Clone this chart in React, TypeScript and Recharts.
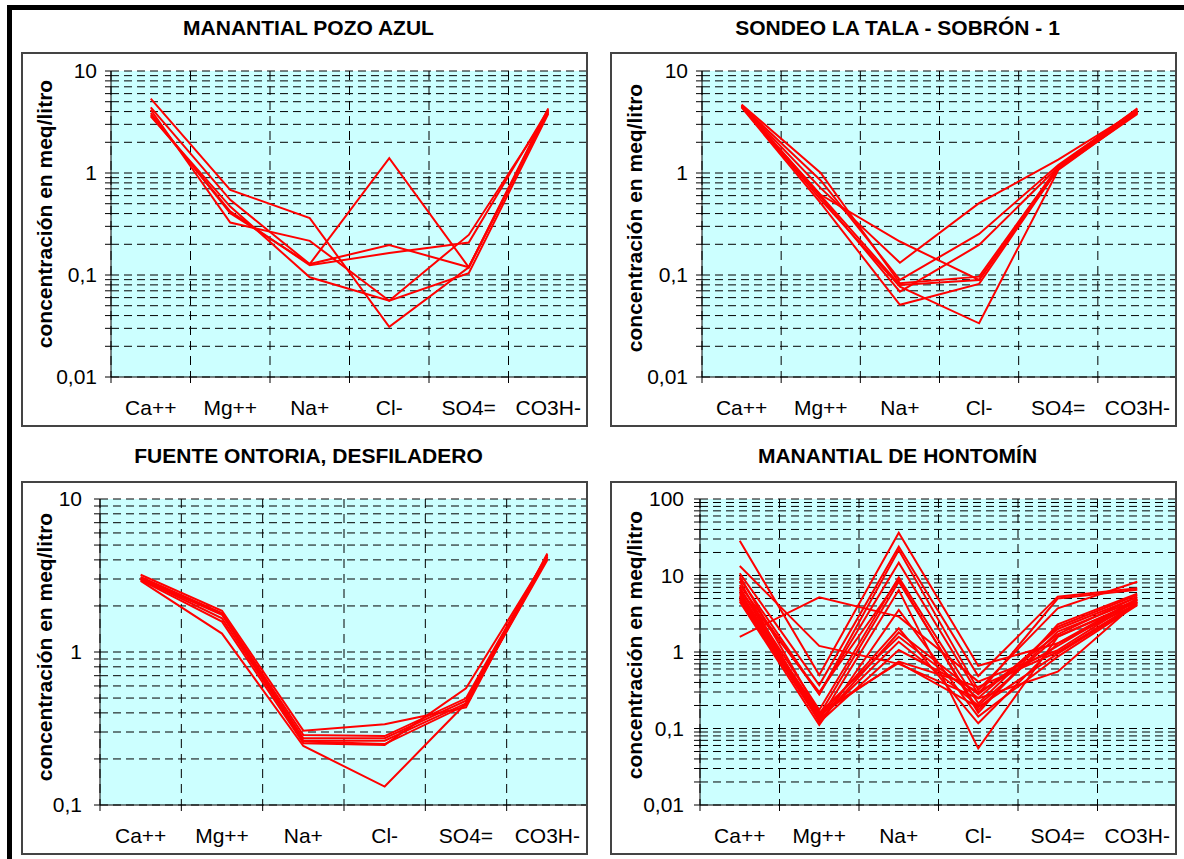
import React from 'react';
import { LineChart, Line, XAxis, YAxis, CartesianGrid } from 'recharts';

const categories = ['Ca++', 'Mg++', 'Na+', 'Cl-', 'SO4=', 'CO3H-'];

const titles = [
  'MANANTIAL POZO AZUL',
  'SONDEO LA TALA - SOBRÓN - 1',
  'FUENTE ONTORIA, DESFILADERO',
  'MANANTIAL DE HONTOMÍN',
];

const yAxisTitle = 'concentración en meq/litro';

// values per series, in category order: Ca++, Mg++, Na+, Cl-, SO4=, CO3H-
const pozoAzul: number[][] = [
  [5.35, 0.684, 0.361, 0.031, 0.119, 4.3],
  [4.39, 0.546, 0.128, 1.4, 0.119, 4.0],
  [4.17, 0.327, 0.216, 0.056, 0.247, 3.9],
  [3.87, 0.404, 0.128, 0.197, 0.119, 4.1],
  [3.59, 0.469, 0.095, 0.056, 0.104, 3.8],
  [3.7, 0.42, 0.125, 0.164, 0.208, 4.2],
];

const sondeoLaTala: number[][] = [
  [4.7, 1.0, 0.083, 0.0964, 1.16, 4.3],
  [4.6, 0.845, 0.0895, 0.253, 1.2, 4.2],
  [4.6, 0.711, 0.132, 0.506, 1.35, 4.1],
  [4.5, 0.611, 0.213, 0.0895, 1.1, 4.0],
  [4.5, 0.546, 0.077, 0.0336, 1.07, 3.9],
  [4.4, 0.506, 0.051, 0.0818, 1.1, 3.8],
  [4.5, 0.58, 0.0687, 0.197, 1.15, 4.0],
  [4.6, 0.6, 0.08, 0.0895, 1.12, 3.9],
];

const fuenteOntoria: number[][] = [
  [3.2, 1.86, 0.306, 0.337, 0.435, 4.4],
  [3.1, 1.8, 0.287, 0.282, 0.498, 4.3],
  [3.05, 1.77, 0.273, 0.273, 0.481, 4.2],
  [3.0, 1.66, 0.263, 0.263, 0.462, 4.1],
  [2.95, 1.58, 0.253, 0.247, 0.579, 4.2],
  [2.92, 1.32, 0.243, 0.132, 0.462, 4.0],
  [3.0, 1.75, 0.26, 0.25, 0.45, 4.3],
];

const hontomin: number[][] = [
  [28.5, 0.5, 36.3, 0.66, 1.3, 5.0],
  [13.3, 1.2, 0.7, 0.248, 0.553, 4.5],
  [1.58, 5.19, 2.9, 0.41, 1.06, 4.8],
  [10.7, 0.37, 23.8, 0.485, 5.29, 6.8],
  [9.18, 0.28, 21.5, 0.319, 3.73, 8.3],
  [7.52, 0.28, 14.7, 0.283, 5.0, 6.5],
  [6.8, 0.175, 9.46, 0.213, 2.14, 5.56],
  [5.85, 0.15, 8.3, 0.175, 1.85, 4.79],
  [5.29, 0.129, 6.46, 0.055, 1.58, 4.5],
  [4.55, 0.111, 3.54, 0.143, 0.87, 4.11],
  [6.2, 0.14, 2.04, 0.117, 1.3, 4.3],
  [5.5, 0.16, 1.58, 0.25, 2.0, 5.2],
  [7.0, 0.13, 1.36, 0.2, 1.6, 4.6],
  [8.5, 0.12, 1.06, 0.3, 1.2, 4.9],
  [5.0, 0.15, 0.748, 0.35, 1.0, 4.4],
  [6.5, 0.3, 8.8, 0.16, 2.3, 5.8],
  [4.8, 0.125, 1.8, 0.28, 1.7, 5.3],
  [9.8, 0.16, 0.72, 0.19, 0.95, 4.2],
];

const yMajorsA = [0.01, 0.1, 1, 10];
const yMajorsB = [0.1, 1, 10];
const yMajorsC = [0.01, 0.1, 1, 10, 100];
const minorSteps = [2, 3, 4, 5, 6, 7, 8, 9];

function buildTicks(majors: number[]) {
  const t: number[] = [];
  majors.forEach((m, i) => {
    t.push(m);
    if (i < majors.length - 1) minorSteps.forEach((s) => t.push(Number((m * s).toPrecision(3))));
  });
  return t;
}

function buildRows(series: number[][]) {
  return categories.map((c, i) => {
    const row: any = { x: i + 0.5, cat: c };
    series.forEach((s, j) => {
      row['s' + j] = s[i];
    });
    return row;
  });
}

const xTicks = categories.map((_, i) => i).concat([categories.length]);
const FONT = "Arial, 'Liberation Sans', sans-serif";

type Box = { left: number; top: number; w: number; h: number };
type Plot = { left: number; right: number; top: number; bottom: number };

function Panel(props: {
  title: string;
  series: number[][];
  majors: number[];
  box: Box;
  plot: Plot;
  tickGap: number;
  titleTop: number;
  labelX: number;
  labelY: number;
}) {
  const { title, series, majors, box, plot, tickGap, titleTop, labelX, labelY } = props;
  const rows = buildRows(series);
  const ticks = buildTicks(majors);
  const yAxisWidth = 60;
  const xAxisHeight = 40;
  const margin = {
    top: plot.top - box.top,
    right: box.left + box.w - plot.right,
    bottom: box.top + box.h - plot.bottom - xAxisHeight,
    left: plot.left - box.left - yAxisWidth,
  };
  const band = (plot.right - plot.left) / categories.length;
  const majorSet = new Set(majors);
  const fmt = (v: number) => (majorSet.has(v) ? String(v).replace('.', ',') : '');
  return (
    <>
      <div
        style={{
          position: 'absolute',
          left: box.left + 4,
          top: titleTop,
          width: box.w,
          textAlign: 'center',
          fontWeight: 'bold',
          fontSize: 21,
          lineHeight: '24px',
          whiteSpace: 'nowrap',
        }}
      >
        {title}
      </div>
      <div style={{ position: 'absolute', left: box.left, top: box.top }}>
        <LineChart width={box.w} height={box.h} data={rows} margin={margin}>
          <CartesianGrid horizontal vertical={false} fill="#CCFFFF" fillOpacity={1} stroke="#000" strokeDasharray="8 5" />
          <CartesianGrid horizontal={false} vertical stroke="#000" strokeDasharray="9 6" />
          <XAxis
            type="number"
            dataKey="x"
            domain={[0, categories.length]}
            ticks={xTicks}
            interval={0}
            allowDataOverflow
            height={xAxisHeight}
            tickSize={6}
            axisLine={{ stroke: '#000', strokeWidth: 1 }}
            tickLine={{ stroke: '#000' }}
            tick={(p: any) => {
              const v = p.payload.value;
              if (v >= categories.length) return <g />;
              return (
                <text x={p.x + band / 2} y={p.y + 23} dy="0.355em" textAnchor="middle" fontSize={21} fill="#000" fontFamily={FONT}>
                  {categories[v]}
                </text>
              );
            }}
          />
          <YAxis
            type="number"
            scale="log"
            domain={[majors[0], majors[majors.length - 1]]}
            allowDataOverflow
            ticks={ticks}
            interval={0}
            width={yAxisWidth}
            tickSize={6}
            tickMargin={tickGap}
            tickFormatter={fmt}
            tick={{ fill: '#000', fontSize: 21, fontFamily: FONT }}
            axisLine={{ stroke: '#000', strokeWidth: 1 }}
            tickLine={{ stroke: '#000' }}
            label={{
              content: () => (
                <text
                  x={labelX}
                  y={labelY}
                  transform={`rotate(-90 ${labelX} ${labelY})`}
                  textAnchor="middle"
                  dominantBaseline="central"
                  fontSize={21}
                  fontWeight="bold"
                  fill="#000"
                  fontFamily={FONT}
                >
                  {yAxisTitle}
                </text>
              ),
            }}
          />
          {series.map((_, j) => (
            <Line
              key={j}
              type="linear"
              dataKey={'s' + j}
              stroke="#FF0000"
              strokeWidth={2}
              dot={false}
              activeDot={false}
              isAnimationActive={false}
            />
          ))}
        </LineChart>
      </div>
      <div
        style={{
          position: 'absolute',
          left: box.left,
          top: box.top,
          width: box.w,
          height: box.h,
          border: '2px solid #444',
          boxSizing: 'border-box',
          pointerEvents: 'none',
        }}
      />
    </>
  );
}

export default function App() {
  return (
    <div
      style={{
        position: 'absolute',
        left: 0,
        top: 0,
        width: 1184,
        height: 859,
        background: '#fff',
        fontFamily: FONT,
        color: '#000',
        overflow: 'hidden',
      }}
    >
      <div style={{ position: 'absolute', left: 7, top: 5, width: 1177, height: 5, background: '#000' }} />
      <div style={{ position: 'absolute', left: 7, top: 5, width: 5, height: 854, background: '#000' }} />
      <Panel
        title={titles[0]}
        series={pozoAzul}
        majors={yMajorsA}
        box={{ left: 21, top: 52, w: 567, h: 375 }}
        plot={{ left: 111, right: 588, top: 71, bottom: 377 }}
        tickGap={8}
        titleTop={16}
        labelX={23}
        labelY={162}
      />
      <Panel
        title={titles[1]}
        series={sondeoLaTala}
        majors={yMajorsA}
        box={{ left: 610, top: 52, w: 567, h: 375 }}
        plot={{ left: 702, right: 1177, top: 71, bottom: 377 }}
        tickGap={8}
        titleTop={16}
        labelX={24}
        labelY={166}
      />
      <Panel
        title={titles[2]}
        series={fuenteOntoria}
        majors={yMajorsB}
        box={{ left: 21, top: 481, w: 567, h: 374 }}
        plot={{ left: 100, right: 588, top: 499, bottom: 805 }}
        tickGap={12}
        titleTop={444}
        labelX={23}
        labelY={166}
      />
      <Panel
        title={titles[3]}
        series={hontomin}
        majors={yMajorsC}
        box={{ left: 610, top: 481, w: 567, h: 374 }}
        plot={{ left: 700, right: 1177, top: 499, bottom: 805 }}
        tickGap={10}
        titleTop={444}
        labelX={24}
        labelY={164}
      />
    </div>
  );
}
